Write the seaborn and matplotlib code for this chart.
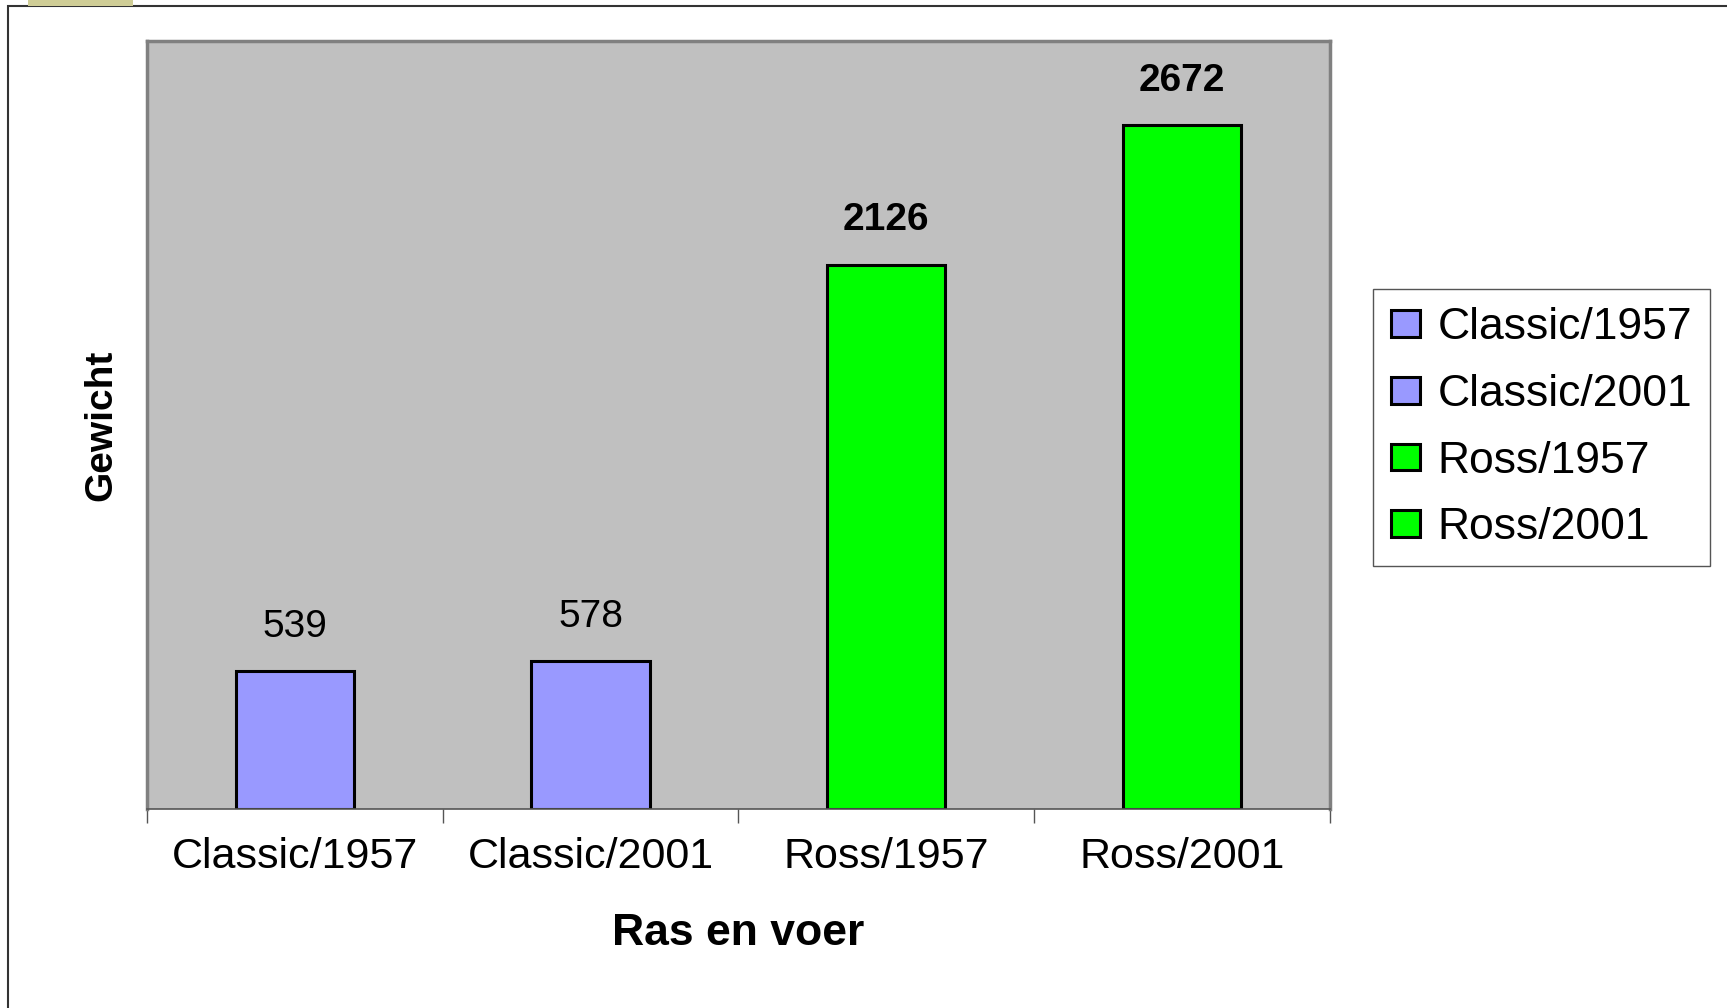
import matplotlib
matplotlib.use("Agg")
import matplotlib.pyplot as plt
import seaborn as sns
from matplotlib.patches import Rectangle

# data
categories = ["Classic/1957", "Classic/2001", "Ross/1957", "Ross/2001"]
weights = [539, 578, 2126, 2672]
colors = ["#9999FF", "#9999FF", "#00FF00", "#00FF00"]
bold_labels = [False, False, True, True]

sns.set_style("white")
plt.rcParams["font.family"] = ["Liberation Sans", "DejaVu Sans"]
plt.rcParams["text.color"] = "black"
plt.rcParams["axes.labelcolor"] = "black"
plt.rcParams["xtick.color"] = "black"

fig = plt.figure(figsize=(17.27, 10.08), dpi=100)
ax = fig.add_axes([0.0851, 0.1974, 0.685, 0.7619])

sns.barplot(x=categories, y=weights, hue=categories, palette=colors,
            width=0.4, edgecolor="black", linewidth=2.2, saturation=1,
            dodge=False, legend=False, ax=ax)

ax.set_facecolor("#C0C0C0")
ax.set_ylim(0, 3000)
ax.set_xlim(-0.5, 3.5)
ax.set_yticks([])
for side in ["left", "top", "right"]:
    ax.spines[side].set_color("#808080")
    ax.spines[side].set_linewidth(2.5)
ax.spines["bottom"].set_color("#555555")
ax.spines["bottom"].set_linewidth(1.2)

# tick marks at category boundaries
ax.set_xticks([-0.5, 0.5, 1.5, 2.5, 3.5], minor=True)
ax.tick_params(axis="x", which="minor", length=10, width=1, color="#555555",
               direction="out", bottom=True)
ax.tick_params(axis="x", which="major", length=0, pad=20, labelsize=31,
               labelcolor="black")

for cont, bold in zip(ax.containers, bold_labels):
    ax.bar_label(cont, padding=19, fontsize=28, color="black",
                 fontweight="bold" if bold else "normal")

ax.set_xlabel("Ras en voer", fontsize=32, fontweight="bold", labelpad=26)
ax.set_ylabel("Gewicht", fontsize=28, fontweight="bold", labelpad=20)

handles = [cont.patches[0] for cont in ax.containers]
leg = ax.legend(handles, categories, loc="upper left", bbox_to_anchor=(0.795, 0.713),
                bbox_transform=fig.transFigure, borderaxespad=0, fontsize=32,
                fancybox=False, edgecolor="#555555", framealpha=1,
                handlelength=0.65, handleheight=0.55, handletextpad=0.4,
                labelspacing=0.58, borderpad=0.4)
leg.get_frame().set_linewidth(1)
for t in leg.get_texts():
    t.set_color("black")

# outer chart frame and small tab at the top
fig.patches.append(Rectangle((8 / 1727, -0.05), 1.1, 1 - 6 / 1008 + 0.05,
                             transform=fig.transFigure, fill=False,
                             edgecolor="#333333", linewidth=1.5, zorder=0))
fig.patches.append(Rectangle((28 / 1727, 1 - 6 / 1008), 105 / 1727, 6 / 1008,
                             transform=fig.transFigure, facecolor="#CFCD96",
                             edgecolor="none", zorder=0))

fig.savefig("out.png", dpi=100)
